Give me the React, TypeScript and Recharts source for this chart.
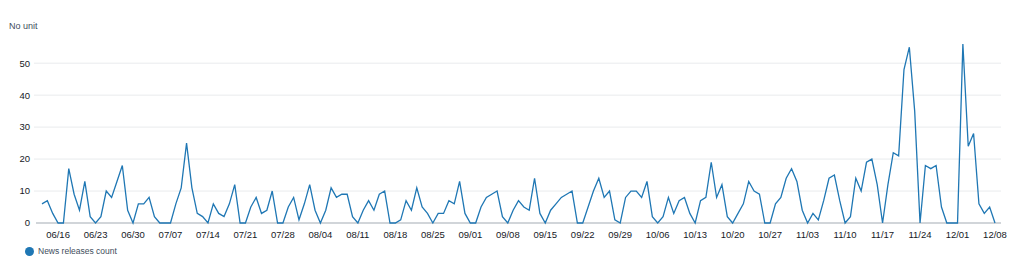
import React from "react";
import { LineChart, Line, XAxis, YAxis, CartesianGrid } from "recharts";

// daily news release counts, 06/13 -> 12/08
const counts = [
  6, 7, 3, 0, 0, 17, 9, 4, 13, 2, 0, 2, 10, 8, 13, 18, 4, 0, 6, 6,
  8, 2, 0, 0, 0, 6, 11, 25, 11, 3, 2, 0, 6, 3, 2, 6, 12, 0, 0, 5,
  8, 3, 4, 10, 0, 0, 5, 8, 1, 6, 12, 4, 0, 4, 11, 8, 9, 9, 2, 0,
  4, 7, 4, 9, 10, 0, 0, 1, 7, 4, 11, 5, 3, 0, 3, 3, 7, 6, 13, 3,
  0, 0, 5, 8, 9, 10, 2, 0, 4, 7, 5, 4, 14, 3, 0, 4, 6, 8, 9, 10,
  0, 0, 5, 10, 14, 8, 10, 1, 0, 8, 10, 10, 8, 13, 2, 0, 2, 8, 3, 7,
  8, 3, 0, 7, 8, 19, 8, 12, 2, 0, 3, 6, 13, 10, 9, 0, 0, 6, 8, 14,
  17, 13, 4, 0, 3, 1, 7, 14, 15, 7, 0, 2, 14, 10, 19, 20, 12, 0, 12, 22,
  21, 48, 55, 35, 0, 18, 17, 18, 5, 0, 0, 0, 56, 24, 28, 6, 3, 5, 0,
];

const startDate = "2024-06-13";

const xTicks = [
  "06/16", "06/23", "06/30", "07/07", "07/14", "07/21", "07/28", "08/04",
  "08/11", "08/18", "08/25", "09/01", "09/08", "09/15", "09/22", "09/29",
  "10/06", "10/13", "10/20", "10/27", "11/03", "11/10", "11/17", "11/24",
  "12/01", "12/08",
];

const yTicks = [0, 10, 20, 30, 40, 50];

const seriesName = "News releases count";

const fmt = (d: Date) =>
  String(d.getUTCMonth() + 1).padStart(2, "0") +
  "/" +
  String(d.getUTCDate()).padStart(2, "0");

const data = counts.map((v, i) => {
  const d = new Date(startDate + "T00:00:00Z");
  d.setUTCDate(d.getUTCDate() + i);
  return { date: fmt(d), value: v };
});

const FONT = "'Liberation Sans', Arial, sans-serif";

// grid line renderer: the zero line doubles as the (thicker) baseline,
// and the plot's top edge gets no line
const gridLine = (p: any) => {
  const key = p.key ?? `h-${p.index}`;
  const y = Number(p.y1 ?? p.y);
  if (!(y > 50)) return <g key={key} />;
  const base = y > 220;
  return (
    <line
      key={key}
      x1={base ? p.x1 + 2 : p.x1}
      x2={p.x2}
      y1={y}
      y2={y}
      stroke={base ? "#d1d5d9" : "#e9ebed"}
      strokeWidth={base ? 2 : 1}
    />
  );
};

export default function App() {
  return (
    <div
      style={{
        position: "absolute",
        left: 0,
        top: 0,
        width: 1021,
        height: 275,
        background: "#fff",
        fontFamily: FONT,
      }}
    >
      <div
        style={{
          position: "absolute",
          left: 9,
          top: 21,
          fontSize: 9,
          color: "#414d5c",
        }}
      >
        No unit
      </div>
      <LineChart
        width={1021}
        height={275}
        data={data}
        margin={{ top: 44, right: 20, left: 0, bottom: 22 }}
      >
        <CartesianGrid
          vertical={false}
          horizontal={gridLine}
          horizontalValues={yTicks}
          stroke="none"
          fill="none"
        />
        <XAxis
          dataKey="date"
          ticks={xTicks}
          interval={0}
          tickLine={false}
          tickSize={0}
          tickMargin={8}
          axisLine={false}
          padding={{ left: 8, right: 6 }}
          height={30}
          tick={{ fontSize: 9.5, fill: "#16191f", fontFamily: FONT }}
        />
        <YAxis
          domain={[0, 56]}
          ticks={yTicks}
          width={34}
          axisLine={false}
          tickLine={false}
          tickSize={0}
          tickMargin={4}
          tick={{ fontSize: 9.5, fill: "#16191f", fontFamily: FONT }}
        />
        <Line
          type="linear"
          dataKey="value"
          name={seriesName}
          stroke="#1f77b4"
          strokeWidth={1.3}
          dot={false}
          isAnimationActive={false}
        />
      </LineChart>
      <div
        style={{
          position: "absolute",
          left: 25,
          top: 246,
          display: "flex",
          alignItems: "center",
          fontSize: 8.5,
          color: "#414d5c",
        }}
      >
        <span
          style={{
            width: 9,
            height: 9,
            borderRadius: "50%",
            background: "#1f77b4",
            marginRight: 4,
            display: "inline-block",
          }}
        />
        {seriesName}
      </div>
    </div>
  );
}
